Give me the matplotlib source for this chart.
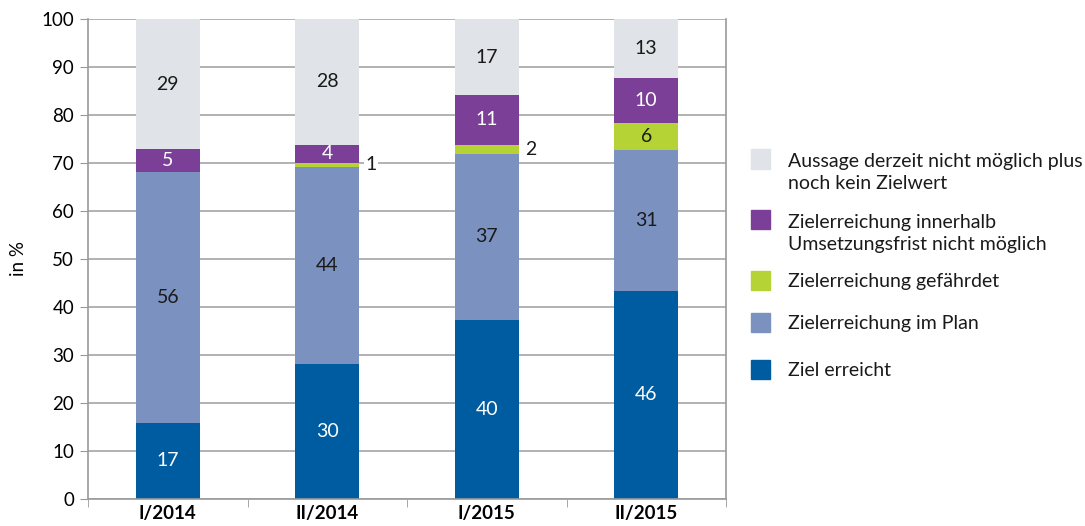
import matplotlib.pyplot as plt
import numpy as np
from matplotlib.patches import Rectangle

plt.rcParams["font.family"] = ["Lato", "DejaVu Sans"]

categories = ["I/2014", "II/2014", "I/2015", "II/2015"]
series_names = [
    "Ziel erreicht",
    "Zielerreichung im Plan",
    "Zielerreichung gefährdet",
    "Zielerreichung innerhalb\nUmsetzungsfrist nicht möglich",
    "Aussage derzeit nicht möglich plus\nnoch kein Zielwert",
]
ziel_erreicht = [17, 30, 40, 46]
im_plan = [56, 44, 37, 31]
gefaehrdet = [0, 1, 2, 6]
nicht_moeglich = [5, 4, 11, 10]
aussage = [29, 28, 17, 13]

colors = ["#005ca1", "#7b91c0", "#b5d334", "#7b3f98", "#e0e3e7"]
text_colors = ["white", "#1a1a1a", "#1a1a1a", "white", "#1a1a1a"]

counts = np.array([ziel_erreicht, im_plan, gefaehrdet, nicht_moeglich, aussage], dtype=float)
pct = counts / counts.sum(axis=0) * 100

fig = plt.figure(figsize=(10.85, 5.26), dpi=100)
ax = fig.add_axes([88 / 1085, 1 - 499 / 526, 638 / 1085, 480 / 526])

x = np.arange(len(categories))
bottom = np.zeros(len(categories))
for i in range(len(counts)):
    ax.bar(x, pct[i], 0.4, bottom=bottom, color=colors[i], zorder=2)
    for j in range(len(categories)):
        v = int(counts[i, j])
        if v == 0:
            continue
        mid = bottom[j] + pct[i, j] / 2
        if pct[i, j] < 2.5:
            ax.text(x[j] + 0.24, mid, str(v), ha="left", va="center", fontsize=14,
                    color="#1a1a1a", zorder=3,
                    bbox=dict(facecolor="white", edgecolor="none", pad=1))
        else:
            ax.text(x[j], mid, str(v), ha="center", va="center", fontsize=14,
                    color=text_colors[i], zorder=3)
    bottom += pct[i]

ax.set_xlim(-0.5, len(categories) - 0.5)
ax.set_ylim(0, 100)
ax.set_yticks(np.arange(0, 101, 10))
ax.set_xticks(x)
ax.set_xticklabels(categories, fontsize=13.5, fontweight="bold")
ax.set_xticks(np.arange(-0.5, len(categories), 1), minor=True)
ax.tick_params(axis="x", which="major", length=0, pad=4)
ax.tick_params(axis="x", which="minor", length=6, color="#9a9a9a", direction="out")
ax.tick_params(axis="y", length=6, color="#9a9a9a", labelsize=13.5, pad=4)
ax.yaxis.grid(True, color="#a6a6a6", linewidth=1.2, zorder=0)
ax.set_axisbelow(True)
for s in ["left", "bottom", "right"]:
    ax.spines[s].set_color("#9a9a9a")
    ax.spines[s].set_linewidth(1.2)
ax.spines["top"].set_visible(False)
ax.set_ylabel("in %", fontsize=13.5, labelpad=10)

# legend drawn by hand (top to bottom)
legend_y = [159, 220, 280, 322, 369]
for k, yc in zip(range(4, -1, -1), legend_y):
    fig.patches.append(Rectangle((751 / 1085, 1 - (yc + 9.5) / 526), 19 / 1085, 19 / 526,
                                 transform=fig.transFigure, color=colors[k]))
    n_lines = series_names[k].count("\n") + 1
    ty = yc + 12.5 * (n_lines - 1) + 1
    fig.text(788 / 1085, 1 - ty / 526, series_names[k], ha="left", va="center",
             fontsize=14, color="#1a1a1a", linespacing=1.35)

fig.savefig("out.png", dpi=100)
